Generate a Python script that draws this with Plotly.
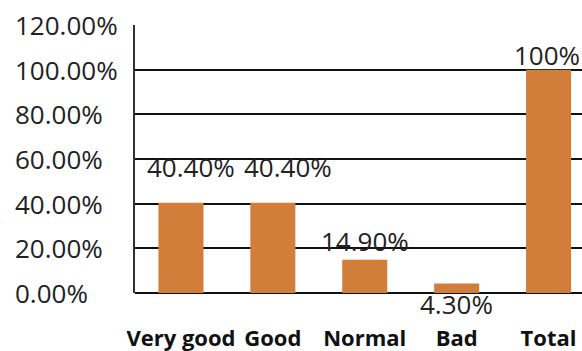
import plotly.graph_objects as go

categories = ["Very good", "Good", "Normal", "Bad", "Total"]
values = [0.404, 0.404, 0.149, 0.043, 1.00]
value_labels = ["40.40%", "40.40%", "14.90%", "4.30%", "100%"]
y_ticks = [0, 0.2, 0.4, 0.6, 0.8, 1.0, 1.2]
y_tick_labels = ["0.00%", "20.00%", "40.00%", "60.00%", "80.00%", "100.00%", "120.00%"]

# label placement offsets (px) to mimic the reference layout
label_xshift = [10, 15, 0, 0, -2]
label_yshift = [36, 36, 19, -21, 15]

BAR = "#D27E3B"
FONT = "Open Sans"

fig = go.Figure()
fig.add_trace(go.Bar(
    x=list(range(len(categories))), y=values,
    marker=dict(color=BAR, line=dict(width=0)),
    width=0.49, hoverinfo="skip",
))

annotations = []
for i, (v, t) in enumerate(zip(values, value_labels)):
    annotations.append(dict(
        x=i, y=v, xref="x", yref="y", text=t, showarrow=False,
        xanchor="center", yanchor="middle",
        xshift=label_xshift[i], yshift=label_yshift[i],
        font=dict(family=FONT, size=26, color="#222222"),
    ))
for v, t in zip(y_ticks, y_tick_labels):
    annotations.append(dict(
        x=-0.272, y=v, xref="paper", yref="y", text=t, showarrow=False,
        xanchor="left", yanchor="middle",
        font=dict(family=FONT, size=26, color="#222222"),
    ))

fig.update_layout(
    width=582, height=351,
    margin=dict(l=135, r=0, t=25, b=58),
    paper_bgcolor="white", plot_bgcolor="white",
    showlegend=False,
    annotations=annotations,
    xaxis=dict(
        range=[-0.5, 4.364],
        tickmode="array", tickvals=list(range(len(categories))), ticktext=categories,
        tickfont=dict(family=FONT, size=22, color="#111111", weight="bold"),
        showgrid=False, showline=False, zeroline=False, ticks="",
        ticklabelstandoff=30,
    ),
    yaxis=dict(
        range=[0, 1.2], tickvals=y_ticks, showticklabels=False,
        showgrid=True, gridcolor="#111111", gridwidth=2,
        zeroline=True, zerolinecolor="#111111", zerolinewidth=2,
        showline=True, linecolor="#333333", linewidth=2,
        ticks="",
    ),
)

fig.write_html("out.html")
